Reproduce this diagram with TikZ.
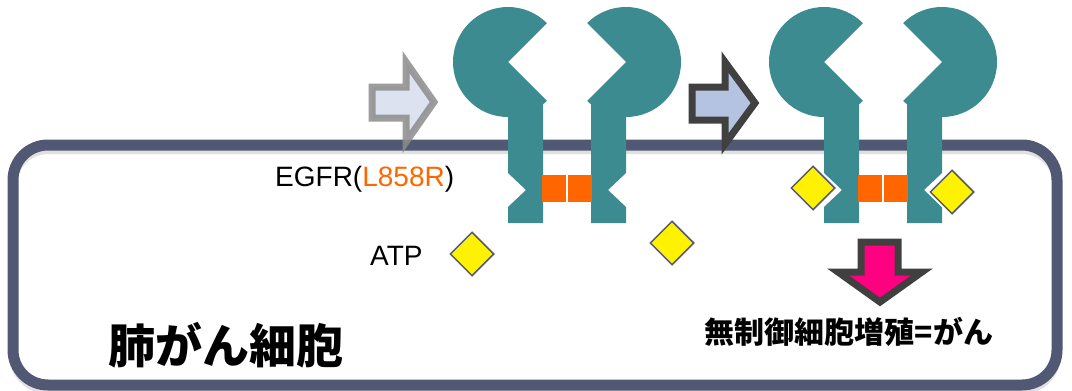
\documentclass[tikz,border=0pt]{standalone}
\usepackage{fontspec}
\setmainfont{Liberation Sans}
\newfontfamily\cjk{Noto Sans CJK JP}
\usepackage{xcolor}
\usepackage{tikz}
\usetikzlibrary{shapes.geometric}

\definecolor{membrane}{RGB}{80,88,116}
\definecolor{egfrteal}{RGB}{60,139,145}
\definecolor{mutorange}{RGB}{255,102,0}
\definecolor{atpedge}{RGB}{84,88,112}
\definecolor{paleblue}{RGB}{221,226,240}
\definecolor{midblue}{RGB}{180,196,224}
\definecolor{hotpink}{RGB}{255,0,128}

\tikzset{
  monomer/.pic={
    \fill[egfrteal] (-59,62) -- +(45:55) arc[start angle=45,end angle=315,radius=55] -- cycle;
    \fill[egfrteal] (-59,100) -- (-24,104) -- (-24,223) -- (-59,223) -- (-59,207) -- (-41,190) -- (-59,173) -- cycle;
  }
}

\begin{document}
\begin{tikzpicture}[x=1pt,y=-1pt,
  atp/.style={diamond,draw=atpedge,fill=yellow,line width=1.5pt,minimum size=44pt,inner sep=0pt,preaction={draw=white,line width=5pt}},
  blockarrow/.style={line width=7pt,line join=miter},
  txt/.style={inner sep=0pt,font=\fontsize{28}{32}\selectfont}]
\useasboundingbox (0,0) rectangle (1072,391);

\draw[black!12,line width=8pt,rounded corners=35pt] (13,150) rectangle (1057,390);
\draw[membrane,line width=11pt,rounded corners=35pt] (13,145) rectangle (1057,385);

\foreach \cx in {567,883}{
  \pic at (\cx,0) {monomer};
  \pic[xscale=-1] at (\cx,0) {monomer};
  \fill[mutorange] (\cx-25,175) rectangle (\cx-1,202);
  \fill[mutorange] (\cx+1,175) rectangle (\cx+25,202);
}

\node[atp] (atp1) at (472,254) {};
\node[atp] (atp2) at (672,243) {};
\node[atp] (atp3) at (813,188) {};
\node[atp] (atp4) at (952,192) {};

\filldraw[blockarrow,draw=black!45,draw opacity=0.85,fill=paleblue] (372,87) -- (406,87) -- (406,62) -- (434,102) -- (406,142) -- (406,118) -- (372,118) -- cycle;
\filldraw[blockarrow,draw=black!75,fill=midblue] (692,87) -- (725,87) -- (725,62) -- (755,103) -- (725,144) -- (725,120) -- (692,120) -- cycle;
\filldraw[blockarrow,draw=black!75,fill=hotpink] (861,242) -- (898,242) -- (898,272) -- (922,272) -- (880,302) -- (838,272) -- (861,272) -- cycle;

\node[txt,anchor=base west] (egfr) at (275,186) {EGFR(\textcolor{mutorange}{L858R})};
\node[txt,anchor=base west] (atp) at (370,265) {ATP};
\node[inner sep=0pt,anchor=west,font=\cjk\bfseries\fontsize{47}{52}\selectfont] (cell) at (108,345) {肺がん細胞};
\node[inner sep=0pt,font=\cjk\bfseries\fontsize{30}{34}\selectfont] (result) at (849,332) {無制御細胞増殖=がん};
\end{tikzpicture}
\end{document}
